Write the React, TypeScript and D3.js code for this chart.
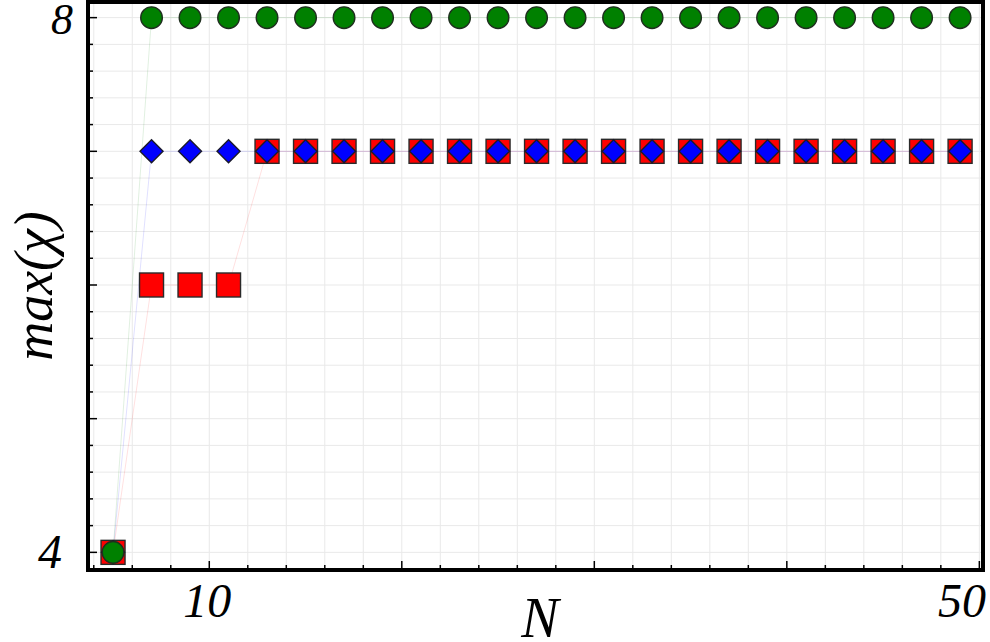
import React from 'react';
import * as d3 from 'd3';

// N values on the x axis
const nValues = [5, 7, 9, 11, 13, 15, 17, 19, 21, 23, 25, 27, 29, 31, 33, 35, 37, 39, 41, 43, 45, 47, 49];

// max(chi) for each series
const redMax = [4, 6, 6, 6, 7, 7, 7, 7, 7, 7, 7, 7, 7, 7, 7, 7, 7, 7, 7, 7, 7, 7, 7];
const blueMax = [4, 7, 7, 7, 7, 7, 7, 7, 7, 7, 7, 7, 7, 7, 7, 7, 7, 7, 7, 7, 7, 7, 7];
const greenMax = [4, 8, 8, 8, 8, 8, 8, 8, 8, 8, 8, 8, 8, 8, 8, 8, 8, 8, 8, 8, 8, 8, 8];

const xTicks = [4, 6, 8, 10, 12, 14, 16, 18, 20, 22, 24, 26, 28, 30, 32, 34, 36, 38, 40, 42, 44, 46, 48, 50];
const xTickLabels = [10, 50];
const yTickLabels = [4, 8];

const W = 990, H = 642;
const left = 88, right = 983, top = 2, bottom = 570;
const serifStyle = { fontFamily: 'Times New Roman', fontStyle: 'italic' as const };

const App = () => {
  const x = d3.scaleLinear().domain([3.7, 50.19]).range([left, right]);
  const y = d3.scaleLinear().domain([3.868, 8.117]).range([bottom, top]);
  const yTicks = d3.range(20, 41).map((k) => k / 5);

  const line = d3.line<[number, number]>().x((d) => x(d[0])).y((d) => y(d[1]));
  const pts = (vals: number[]) => nValues.map((n, i) => [n, vals[i]] as [number, number]);

  const diamond = (cx: number, cy: number, r: number) =>
    `M${cx},${cy - r}L${cx + r},${cy}L${cx},${cy + r}L${cx - r},${cy}Z`;

  return (
    <svg width={W} height={H} style={{ position: 'absolute', left: 0, top: 0, background: '#fff' }}>
      {/* grid */}
      <g stroke="#e9e9e9" strokeWidth={1}>
        {xTicks.map((t) => (
          <line key={'gx' + t} x1={x(t)} x2={x(t)} y1={top} y2={bottom} />
        ))}
        {yTicks.map((t) => (
          <line key={'gy' + t} x1={left} x2={right} y1={y(t)} y2={y(t)} />
        ))}
      </g>

      {/* faint connecting lines */}
      <path d={line(pts(redMax)) || ''} fill="none" stroke="#ff0000" strokeOpacity={0.12} strokeWidth={1} />
      <path d={line(pts(blueMax)) || ''} fill="none" stroke="#0000ff" strokeOpacity={0.12} strokeWidth={1} />
      <path d={line(pts(greenMax)) || ''} fill="none" stroke="#008000" strokeOpacity={0.12} strokeWidth={1} />

      {/* markers */}
      {nValues.map((n, i) => (
        <rect key={'r' + n} x={x(n) - 12} y={y(redMax[i]) - 12} width={24} height={24}
          fill="#ff0000" stroke="#2a2a2a" strokeWidth={1.4} />
      ))}
      {nValues.map((n, i) => (
        <path key={'b' + n} d={diamond(x(n), y(blueMax[i]), 11.5)}
          fill="#0000ff" stroke="#1a1a2a" strokeWidth={1.4} />
      ))}
      {nValues.map((n, i) => (
        <circle key={'g' + n} cx={x(n)} cy={y(greenMax[i])} r={10.8}
          fill="#008000" stroke="#1f2f1f" strokeWidth={1.4} />
      ))}

      {/* ticks, inward */}
      <g stroke="#000" strokeWidth={1.5}>
        {xTicks.map((t) => (
          <line key={'tx' + t} x1={x(t)} x2={x(t)} y1={bottom} y2={bottom - (t % 10 === 0 ? 9 : 5)} />
        ))}
        {yTicks.map((t) => (
          <line key={'ty' + t} x1={left} x2={left + (Math.abs(t - Math.round(t)) < 1e-6 ? 9 : 5)} y1={y(t)} y2={y(t)} />
        ))}
      </g>

      {/* frame */}
      <rect x={left} y={top} width={right - left} height={bottom - top} fill="none" stroke="#000" strokeWidth={4} />

      {/* tick labels */}
      {yTickLabels.map((t) => (
        <text key={'ly' + t} x={t === 8 ? 73 : 62} y={t === 8 ? 34 : y(t) + 16} textAnchor="end"
          fontSize={t === 8 ? 44 : 48} style={serifStyle}>{t}</text>
      ))}
      {xTickLabels.map((t) => (
        <text key={'lx' + t} x={t === 50 ? 986 : x(t) - 2} y={617} textAnchor={t === 50 ? 'end' : 'middle'}
          fontSize={48} style={serifStyle}>{t}</text>
      ))}

      {/* axis titles */}
      <text x={540} y={637} style={serifStyle} fontSize={56} textAnchor="middle">N</text>
      <text transform={`translate(52,${(top + bottom) / 2}) rotate(-90)`} style={serifStyle}
        fontSize={54} textAnchor="middle">max(χ)</text>
    </svg>
  );
};

export default App;
